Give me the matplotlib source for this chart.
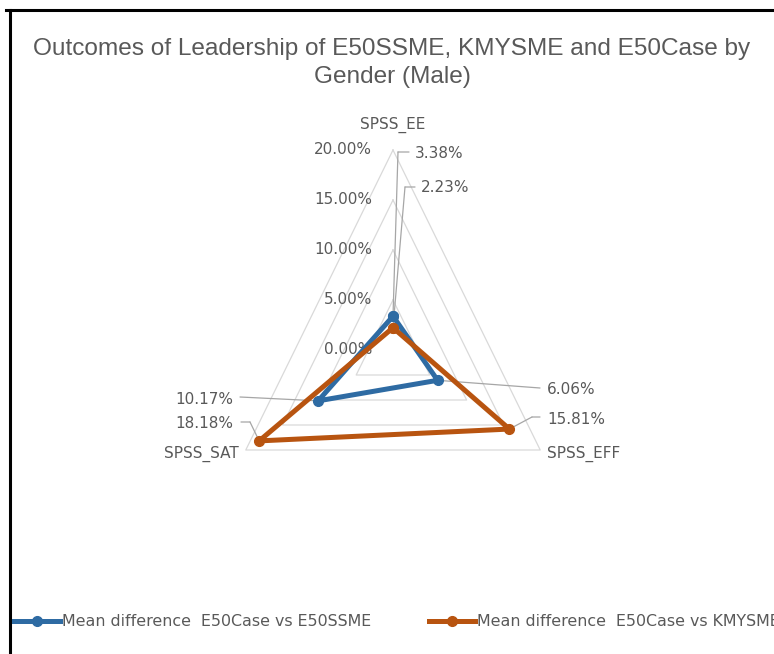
import numpy as np
import matplotlib.pyplot as plt
from matplotlib.lines import Line2D

# data
categories = ['SPSS_EE', 'SPSS_EFF', 'SPSS_SAT']
series_names = ['Mean difference  E50Case vs E50SSME',
                'Mean difference  E50Case vs KMYSME']
vs_e50ssme = [3.38, 6.06, 10.17]
vs_kmysme = [2.23, 15.81, 18.18]
r_ticks = [0, 5, 10, 15, 20]
title = 'Outcomes of Leadership of E50SSME, KMYSME and E50Case by\nGender (Male)'

W, H = 774, 654
grey_txt = '#595959'
blue = '#2E6BA3'
orange = '#B85410'
leader_col = '#A6A6A6'

plt.rcParams['font.family'] = ['DejaVu Sans']

fig = plt.figure(figsize=(W / 100, H / 100), dpi=100)

# radar centre / radius in pixels (picture is squashed horizontally)
cx, cy, rx, ry = 393, 350, 170, 200
ax = fig.add_axes([(cx - rx) / W, (H - cy - ry) / H, 2 * rx / W, 2 * ry / H],
                  projection='polar')
ax.set_theta_zero_location('N')
ax.set_theta_direction(-1)
ax.set_ylim(0, 20)
ax.set_aspect('auto')
ax.axis('off')

theta = np.deg2rad([0, 120, 240])
th_closed = np.append(theta, theta[0])

# triangular grid
for r in r_ticks[1:]:
    ax.plot(th_closed, [r] * 4, color='#D9D9D9', lw=0.9, clip_on=False, zorder=1)

# series
for vals, col, name in [(vs_e50ssme, blue, series_names[0]),
                        (vs_kmysme, orange, series_names[1])]:
    ax.plot(th_closed, vals + vals[:1], color=col, lw=3.6, marker='o', ms=7,
            clip_on=False, zorder=3, label=name)

# radial tick labels
for r in r_ticks:
    ax.annotate(f'{r:.2f}%', xy=(0, r), xytext=(-21, 0), textcoords='offset pixels',
                ha='right', va='center', fontsize=11, color=grey_txt, zorder=2)

# category labels
cat_off = [((0, 25), 'center'), ((7, -4), 'left'), ((-7, -4), 'right')]
for t, name, (off, ha) in zip(theta, categories, cat_off):
    ax.annotate(name, xy=(t, 20), xytext=off, textcoords='offset pixels',
                ha=ha, va='center', fontsize=11, color=grey_txt)


def fp(x, y):
    # picture coords (top-down) -> figure pixels
    return (x, H - y)


# data labels with leader lines: (elbow, end of leader, text pos, ha)
leaders = {
    (0, 0): ((398, 152), (409, 152), (415, 153), 'left'),
    (1, 0): ((405, 187), (415, 187), (421, 188), 'left'),
    (0, 1): ((540, 388), (540, 388), (547, 390), 'left'),
    (1, 1): ((532, 417), (540, 417), (547, 420), 'left'),
    (0, 2): ((240, 397), (240, 397), (233, 399), 'right'),
    (1, 2): ((250, 422), (241, 422), (233, 423), 'right'),
}
all_vals = [vs_e50ssme, vs_kmysme]
for (s, k), (elbow, end, tpos, ha) in leaders.items():
    lp = dict(arrowstyle='-', color=leader_col, lw=0.9, shrinkA=0, shrinkB=0)
    ax.annotate('', xy=(theta[k], all_vals[s][k]), xytext=fp(*elbow),
                textcoords='figure pixels', arrowprops=lp, zorder=2)
    ax.annotate('', xy=fp(*elbow), xycoords='figure pixels', xytext=fp(*end),
                textcoords='figure pixels', arrowprops=lp, zorder=2)
    ax.annotate(f'{all_vals[s][k]:.2f}%', xy=fp(*tpos), xycoords='figure pixels',
                ha=ha, va='center', fontsize=11, color=grey_txt)

# title
fig.text(392 / W, 1 - 63 / H, title, ha='center', va='center', fontsize=17.6,
         color=grey_txt, family=['Liberation Sans', 'DejaVu Sans'], linespacing=1.3)

# legend
handles, labels = ax.get_legend_handles_labels()
fig.legend(handles, labels, loc='center left', bbox_to_anchor=(14 / W, 1 - 622 / H),
           ncol=2, frameon=False, fontsize=11.4, labelcolor=grey_txt,
           handlelength=2.9, handletextpad=0.1, columnspacing=3.7,
           borderpad=0, borderaxespad=0)

# chart border (top and left edges visible in the crop)
fig.add_artist(Line2D([6 / W, 1], [1 - 10 / H] * 2, transform=fig.transFigure,
                      color='black', lw=2.2))
fig.add_artist(Line2D([9.5 / W] * 2, [0, 1 - 10 / H], transform=fig.transFigure,
                      color='black', lw=2.2))

fig.savefig('out.png', dpi=100)
